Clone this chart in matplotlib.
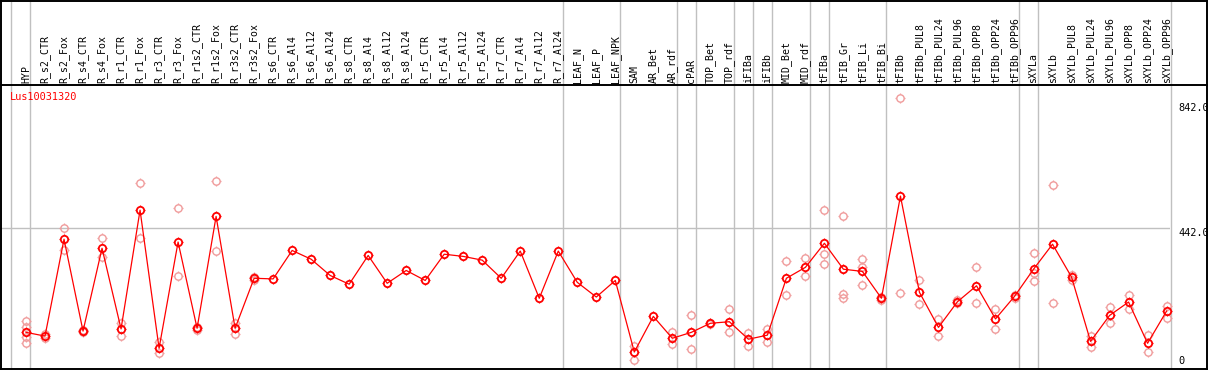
import numpy as np
import matplotlib
matplotlib.use("Agg")
import matplotlib.pyplot as plt
from matplotlib.path import Path
from matplotlib.lines import Line2D

samples = ['HYP', 'R_s2_CTR', 'R_s2_Fox', 'R_s4_CTR', 'R_s4_Fox', 'R_r1_CTR', 'R_r1_Fox',
           'R_r3_CTR', 'R_r3_Fox', 'R_r1s2_CTR', 'R_r1s2_Fox', 'R_r3s2_CTR', 'R_r3s2_Fox',
           'R_s6_CTR', 'R_s6_Al4', 'R_s6_Al12', 'R_s6_Al24', 'R_s8_CTR', 'R_s8_Al4', 'R_s8_Al12',
           'R_s8_Al24', 'R_r5_CTR', 'R_r5_Al4', 'R_r5_Al12', 'R_r5_Al24', 'R_r7_CTR', 'R_r7_Al4',
           'R_r7_Al12', 'R_r7_Al24', 'LEAF_N', 'LEAF_P', 'LEAF_NPK', 'SAM', 'AR_Bet', 'AR_rdf',
           'cPAR', 'TOP_Bet', 'TOP_rdf', 'iFIBa', 'iFIBb', 'MID_Bet', 'MID_rdf', 'tFIBa',
           'tFIB_Gr', 'tFIB_Li', 'tFIB_Bi', 'tFIBb', 'tFIBb_PUL8', 'tFIBb_PUL24', 'tFIBb_PUL96',
           'tFIBb_OPP8', 'tFIBb_OPP24', 'tFIBb_OPP96', 'sXYLa', 'sXYLb', 'sXYLb_PUL8',
           'sXYLb_PUL24', 'sXYLb_PUL96', 'sXYLb_OPP8', 'sXYLb_OPP24', 'sXYLb_OPP96']

means = [109, 97, 407, 113, 378, 120, 500, 58, 398, 122, 480, 122, 282, 280, 371,
         343, 291, 263, 355, 266, 307, 275, 359, 352, 340, 282, 369, 218, 369, 269,
         222, 275, 46, 160, 90, 109, 138, 143, 87, 100, 282, 317, 394, 311, 304,
         218, 545, 237, 125, 207, 258, 152, 224, 311, 391, 286, 80, 163, 206, 74, 177]

replicates = [[146, 127, 93, 74], [104, 90], [442, 372], [116, 110], [410, 349],
              [138, 98], [586, 410], [79, 42], [506, 289], [126, 118], [592, 369],
              [140, 105], [286, 278], [], [], [], [], [], [], [], [], [], [], [], [],
              [], [], [], [], [], [], [], [65, 20], [], [109, 73], [164, 55], [140, 136],
              [184, 109], [106, 66], [120, 79], [336, 227], [347, 288], [500, 359, 328],
              [480, 232, 218], [344, 319, 260], [223, 213], [858, 234], [276, 200],
              [152, 98], [212, 202], [318, 203], [184, 120], [228, 220], [363, 298, 273],
              [580, 203], [292, 278], [97, 63], [189, 139], [228, 185], [100, 45], [193, 156]]

# group separators drawn after these sample indices
separators = [-1, 0, 28, 31, 34, 35, 37, 38, 39, 41, 42, 45, 52, 53, 60]
scale_ticks = [0, 442, 842]
gene = 'Lus10031320'

W, H = 1209, 370
fig = plt.figure(figsize=(W / 100, H / 100), dpi=100)
ax = fig.add_axes([1 / W, 1 / H, 1169 / W, 283.7 / H])
ax.set_xlim(-1.315, 60.18)
ax.set_ylim(-8.3, 899.5)
ax.axis('off')

# four short ticks around each circle
segs = []
for dx, dy in [(0, 1), (0, -1), (1, 0), (-1, 0)]:
    segs.append(Path([(dx * 0.72, dy * 0.72), (dx * 1.0, dy * 1.0)], [Path.MOVETO, Path.LINETO]))
tick_marker = Path.make_compound_path(*segs)

mono = 'DejaVu Sans Mono'
light = '#f09a9a'


def draw_points(xs, ys, color, lw, z):
    ax.plot(xs, ys, linestyle='none', marker='o', markersize=5.3, markerfacecolor='none',
            markeredgecolor=color, markeredgewidth=lw, clip_on=False, zorder=z)
    ax.plot(xs, ys, linestyle='none', marker=tick_marker, markersize=7.4,
            markeredgecolor=color, markeredgewidth=0.9, clip_on=False, zorder=z)


x = np.arange(len(samples))
for i, reps in enumerate(replicates):
    if reps:
        draw_points([i] * len(reps), reps, light, 1.0, 2)

ax.plot(x, means, color='red', linewidth=0.9, clip_on=False, zorder=3)
draw_points(x, means, 'red', 1.3, 3)

ax.axhline(442, color='#c0c0c0', linewidth=1.0, zorder=1)
hdr = 1 + 85.3 / 283.7
for s in separators:
    ax.axvline(s + 0.23, ymin=0, ymax=hdr, color='#c0c0c0', linewidth=1.0,
               clip_on=False, zorder=1)

for i, name in enumerate(samples):
    ax.text(i, 1.008, name, rotation=90, ha='center', va='bottom', fontsize=7.1,
            family=mono, transform=ax.get_xaxis_transform(), clip_on=False)

for v in scale_ticks:
    ax.text(1.0068, v, f'{v:.1f}' if v else '0', ha='left',
            va='top' if v else 'bottom', fontsize=7.4, family=mono,
            transform=ax.get_yaxis_transform(), clip_on=False)

ax.text(10 / W, 1 - 97 / H, gene, color='red', fontsize=7.4, family=mono,
        ha='left', va='center', transform=fig.transFigure)


# outer frame and header rule
def px_line(xs, ys):
    fig.add_artist(Line2D([a / W for a in xs], [1 - b / H for b in ys], color='black',
                          linewidth=1.4, transform=fig.transFigure))


px_line([1, 1207], [0.6, 0.6])
px_line([1, 1207], [369.3, 369.3])
px_line([1, 1], [0, 370])
px_line([1207.3, 1207.3], [0, 370])
px_line([1, 1207], [85.3, 85.3])

fig.savefig('out.png', dpi=100)
